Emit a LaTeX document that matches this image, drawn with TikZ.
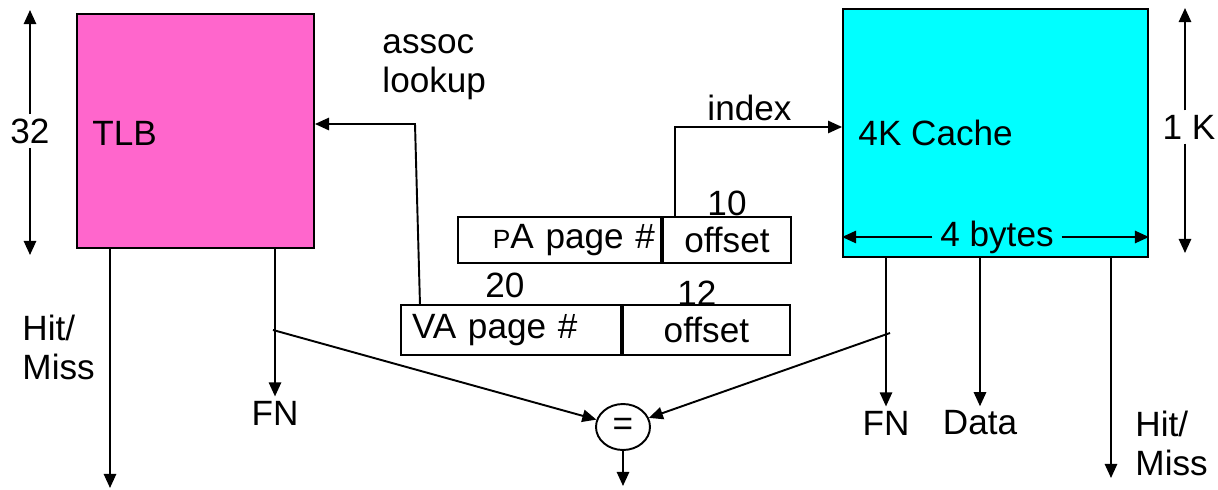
\documentclass[tikz,border=0pt]{standalone}
\usepackage{fontspec}
\setmainfont{Liberation Sans}
\usetikzlibrary{arrows.meta,shapes.geometric}
\definecolor{tlbpink}{HTML}{FF66CC}
\definecolor{cachecyan}{HTML}{00FFFF}
\tikzset{
  arr/.style={-{Triangle[length=8pt,width=7pt]}},
  lbl/.style={inner sep=2pt},
  field/.style={draw,minimum height=1cm,inner sep=0pt},
}

\begin{document}
\begin{tikzpicture}[x=0.02cm,y=-0.02cm,line width=1.1pt,font=\fontsize{20}{22}\selectfont]
  \useasboundingbox (0,0) rectangle (1218,490);

  \node[draw,fill=tlbpink,minimum width=4.74cm,minimum height=4.68cm] (tlb) at (195.5,131) {};
  \node[lbl,anchor=west] (tlbname) at (88,133) {TLB};
  \node[draw,fill=cachecyan,minimum width=6.1cm,minimum height=4.96cm] (cache) at (995.5,133) {};
  \node[lbl,anchor=west] (cachename) at (854,133) {4K Cache};

  \node[field,minimum width=4.06cm,minimum height=0.92cm,text width=3.82cm,align=right] (papn) at (559.5,240) {{\fontsize{15}{18}\selectfont P}A page \#};
  \node[field,minimum width=2.56cm,minimum height=0.92cm,anchor=west] (paoff) at (papn.east) {offset};
  \node[field,minimum width=4.4cm,text width=3.96cm,align=left] (vapn) at (511,330) {VA page \#};
  \node[field,minimum width=3.34cm,anchor=west] (vaoff) at (vapn.east) {offset};

  \node[lbl] (w20) at (505,285) {20};
  \node[lbl] (w10) at (727,203) {10};
  \node[lbl] (w12) at (697,293) {12};
  \node[lbl,anchor=base west,align=left] (assoc) at (378,92) {assoc\\lookup};
  \node[lbl,anchor=base west] (idx) at (703,120) {index};

  \node[draw,ellipse,minimum width=1.08cm,minimum height=0.92cm,inner sep=0pt] (eq) at (623,427) {=};

  \node[lbl] (fnt) at (275,413) {FN};
  \node[lbl,anchor=base west,align=left] (hmt) at (18,379) {Hit/\\Miss};
  \node[lbl] (fnc) at (886,423) {FN};
  \node[lbl] (data) at (980,423) {Data};
  \node[lbl,anchor=base west,align=left] (hmc) at (1131,475) {Hit/\\Miss};
  \node[lbl] (n32) at (30,131) {32};
  \node[lbl] (n1k) at (1189,127) {1 K};
  \node[fill=cachecyan,inner xsep=4pt,inner ysep=0pt] (bytes) at (997,237) {4 bytes};

  \coordinate (t32) at (30,10);
  \coordinate (b32) at (30,255);
  \coordinate (t1k) at (1185,8);
  \coordinate (b1k) at (1185,253);
  \coordinate (hml) at (110,488);
  \coordinate (hmr) at (1111,478);
  \coordinate (asc) at (415,124);
  \coordinate (ascin) at (420,305);
  \coordinate (idxc) at (675,127);
  \coordinate (tap1) at (273,330);
  \coordinate (tap2) at (890,333);
  \coordinate (eqout) at (623,486);

  \draw[arr] (n32) -- (t32);
  \draw[arr] (n32) -- (b32);
  \draw[arr] (n1k.north -| t1k) -- (t1k);
  \draw[arr] (n1k.south -| b1k) -- (b1k);
  \draw[arr] (tlb.south -| hml) -- (hml);
  \draw[arr] (tlb.south -| fnt) -- (fnt);
  \draw[arr] (ascin) -- (asc) -- (tlb.east |- asc);
  \draw[arr] (paoff.north -| idxc) -- (idxc) -- (cache.west |- idxc);
  \draw[arr] (tap1) -- (eq);
  \draw[arr] (tap2) -- (eq);
  \draw[arr] (eq) -- (eqout);
  \draw[arr] (cache.south -| fnc) -- (fnc);
  \draw[arr] (cache.south -| data) -- (data);
  \draw[arr] (cache.south -| hmr) -- (hmr);
  \draw[arr] (bytes) -- (cache.west |- bytes);
  \draw[arr] (bytes) -- (cache.east |- bytes);
\end{tikzpicture}
\end{document}
